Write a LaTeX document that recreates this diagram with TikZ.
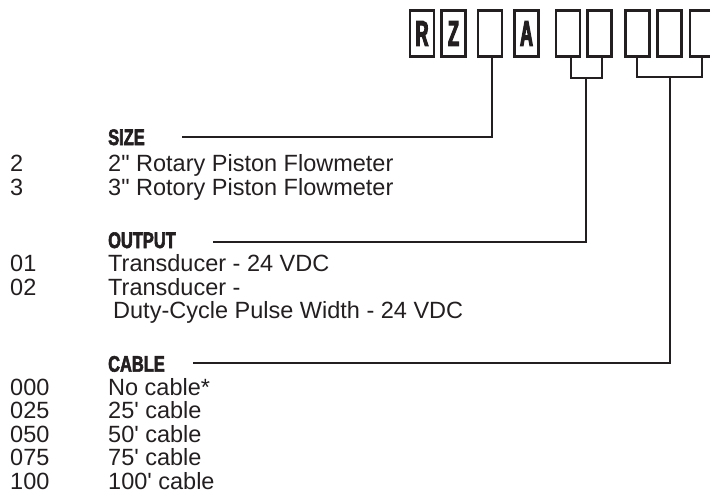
\documentclass[tikz,border=0pt]{standalone}
\usepackage{fontspec}
\setmainfont{Liberation Sans}[Ligatures=TeXOff]
\newfontfamily\headfont[FakeStretch=0.73,FakeBold=2.5]{Liberation Sans Bold}
\newfontfamily\boxfont[FakeStretch=0.5,FakeBold=3]{Liberation Sans Bold}
\usetikzlibrary{calc}
\definecolor{ink}{HTML}{231F20}
\tikzset{
  codebox/.style={draw=ink,line width=2.6pt,minimum width=24pt,minimum height=46pt,inner sep=0pt,
    font=\boxfont\fontsize{36}{36}\selectfont,text=ink},
  heading/.style={anchor=base west,inner sep=0pt,font=\headfont\fontsize{22.5}{22.5}\selectfont,text=ink},
  body/.style={anchor=base west,inner sep=0pt,font=\fontsize{23.5}{23.5}\selectfont,text=ink},
  conn/.style={draw=ink,line width=2pt}
}
\begin{document}
\begin{tikzpicture}[x=1pt,y=-1pt]
\useasboundingbox (0,0) rectangle (710,493);
\clip (0,0) rectangle (710,493);
% code boxes
\node[codebox] (b1) at (422,33.5) {R};
\node[codebox] (b2) at (453.5,33.5) {Z};
\node[codebox] (b3) at (490,33.5) {};
\node[codebox] (b4) at (526.5,33.5) {A};
\node[codebox] (b5) at (568,33.5) {};
\node[codebox] (b6) at (599.5,33.5) {};
\node[codebox] (b7) at (637.5,33.5) {};
\node[codebox] (b8) at (669.5,33.5) {};
\node[codebox] (b9) at (702,33.5) {};
% SIZE
\node[heading] (hsize) at (108,145) {SIZE};
\node[body] (s2c) at (10,171.7) {2};
\node[body] (s2d) at (108,171.7) {2" Rotary Piston Flowmeter};
\node[body] (s3c) at (10,195.2) {3};
\node[body] (s3d) at (108,195.2) {3" Rotory Piston Flowmeter};
% OUTPUT
\node[heading] (hout) at (108,248) {OUTPUT};
\node[body] (o1c) at (10,271.7) {01};
\node[body] (o1d) at (108,271.7) {Transducer - 24 VDC};
\node[body] (o2c) at (10,295.2) {02};
\node[body] (o2d) at (108,295.2) {Transducer -};
\node[body] (o2e) at (113,318.7) {Duty-Cycle Pulse Width - 24 VDC};
% CABLE
\node[heading] (hcab) at (108,371.7) {CABLE};
\node[body] (c0c) at (10,395) {000};
\node[body] (c0d) at (108,395) {No cable*};
\node[body] (c1c) at (10,418.5) {025};
\node[body] (c1d) at (108,418.5) {25' cable};
\node[body] (c2c) at (10,442) {050};
\node[body] (c2d) at (108,442) {50' cable};
\node[body] (c3c) at (10,465.5) {075};
\node[body] (c3d) at (108,465.5) {75' cable};
\node[body] (c4c) at (10,489) {100};
\node[body] (c4d) at (108,489) {100' cable};
% connectors
\coordinate (sizeL) at (182,137);
\coordinate (outL) at (213,242);
\coordinate (cabL) at (193,363);
\coordinate (obr) at (586,77.5);
\coordinate (cbr) at (669.5,76.5);
\draw[conn] (sizeL) -| ([xshift=2pt]b3.south);
\draw[conn] ([xshift=3pt]b5.south) |- (obr) -| ([xshift=2pt]b6.south);
\draw[conn] (outL) -| (obr);
\draw[conn] ([xshift=-0.5pt]b7.south) |- (cbr) -| (b9.south);
\draw[conn] (cabL) -| (cbr);
\end{tikzpicture}
\end{document}
